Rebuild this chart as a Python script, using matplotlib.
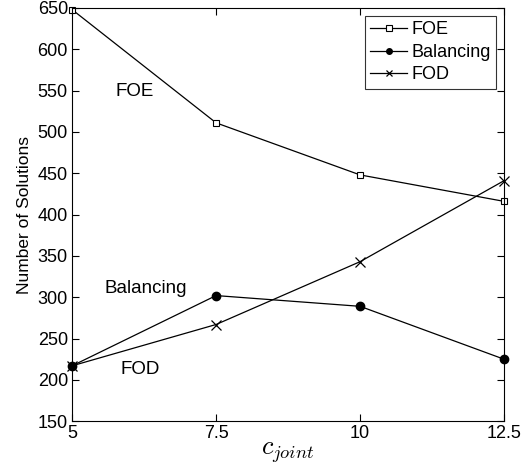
import matplotlib
matplotlib.use('Agg')
import matplotlib.pyplot as plt

c_joint = [5, 7.5, 10, 12.5]
foe = [648, 511, 448, 416]
balancing = [217, 302, 289, 225]
fod = [217, 267, 343, 441]

x_ticks = [5, 7.5, 10, 12.5]
x_tick_labels = ['5', '7.5', '10', '12.5']
y_ticks = [150, 200, 250, 300, 350, 400, 450, 500, 550, 600, 650]

plt.rcParams['font.family'] = ['Liberation Sans', 'DejaVu Sans']
plt.rcParams['mathtext.fontset'] = 'cm'

fig = plt.figure(figsize=(5.3, 4.68), dpi=100)
ax = fig.add_axes([0.136, 0.100, 0.815, 0.883])

ax.plot(c_joint, foe, color='black', linewidth=0.9, marker='s', markersize=4.5,
        markerfacecolor='white', markeredgewidth=0.8, label='FOE', clip_on=False)
ax.plot(c_joint, balancing, color='black', linewidth=0.9, marker='o', markersize=6,
        label='Balancing', clip_on=False)
ax.plot(c_joint, fod, color='black', linewidth=0.9, marker='x', markersize=7,
        markeredgewidth=0.9, label='FOD', clip_on=False)

# curve labels inside the plot
ax.text(5.75, 549, 'FOE', fontsize=13.5, va='center', ha='left')
ax.text(5.57, 311, 'Balancing', fontsize=13.5, va='center', ha='left')
ax.text(5.84, 212, 'FOD', fontsize=13.5, va='center', ha='left')

ax.set_xlim(5, 12.5)
ax.set_ylim(150, 650)
ax.set_xticks(x_ticks)
ax.set_xticklabels(x_tick_labels)
ax.set_yticks(y_ticks)
ax.tick_params(direction='in', top=True, right=True, labelsize=13, length=5, pad=3)

ax.set_xlabel(r'$c_{joint}$', fontsize=19, labelpad=-2)
ax.set_ylabel('Number of Solutions', fontsize=12.5, labelpad=4)

leg = ax.legend(loc='upper right', fontsize=13, frameon=True, fancybox=False,
                edgecolor='black', handlelength=2.0, handletextpad=0.25,
                borderpad=0.3, labelspacing=0.3, borderaxespad=0.45)
leg.get_frame().set_linewidth(0.8)
for h in leg.legend_handles:
    h.set_markersize(4)

plt.savefig('out.png', dpi=100)
